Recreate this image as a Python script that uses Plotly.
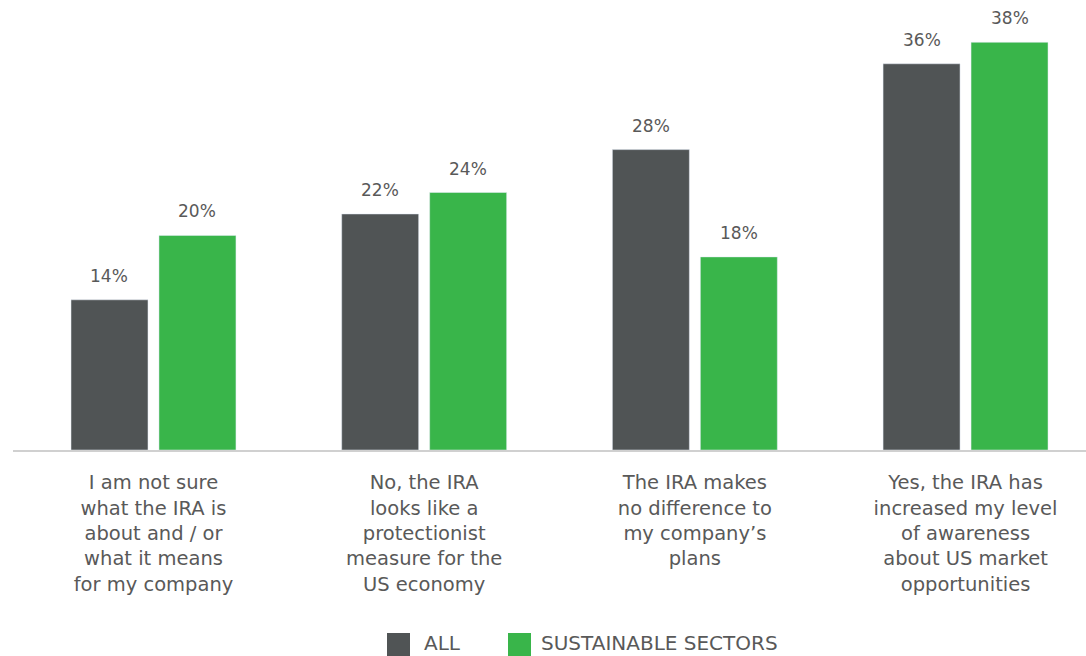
import plotly.graph_objects as go

categories = [
    "I am not sure<br>what the IRA is<br>about and / or<br>what it means<br>for my company",
    "No, the IRA<br>looks like a<br>protectionist<br>measure for the<br>US economy",
    "The IRA makes<br>no difference to<br>my company’s<br>plans",
    "Yes, the IRA has<br>increased my level<br>of awareness<br>about US market<br>opportunities",
]
series_names = ["ALL", "SUSTAINABLE SECTORS"]
all_values = [14, 22, 28, 36]
sust_values = [20, 24, 18, 38]

DARK = "#505455"
GREEN = "#39B54A"
TEXT = "#595959"
FONT = "DejaVu Sans"

fig = go.Figure()
fig.add_bar(x=categories, y=all_values, name=series_names[0], marker_color=DARK,
            showlegend=False)
fig.add_bar(x=categories, y=sust_values, name=series_names[1], marker_color=GREEN,
            showlegend=False)

# value labels
for vals, shift in ((all_values, -44), (sust_values, 44)):
    for c, v in zip(categories, vals):
        fig.add_annotation(x=c, y=v, text=f"{v}%", showarrow=False, xref="x", yref="y",
                           xshift=shift, yshift=12, yanchor="bottom",
                           font=dict(family=FONT, size=17, color=TEXT))

# legend drawn manually for large square swatches
legend_items = [(series_names[0], DARK, 387, 422), (series_names[1], GREEN, 508, 539)]
for name, col, bx, tx in legend_items:
    fig.add_shape(type="rect", xref="paper", yref="paper",
                  x0=(bx - 13) / 1073, x1=(bx + 23 - 13) / 1073,
                  y0=(450 - 656) / 427, y1=(450 - 633) / 427,
                  fillcolor=col, line_width=0)
    fig.add_annotation(x=(tx - 13) / 1073, y=(450 - 643) / 427, xref="paper", yref="paper",
                       text=name, showarrow=False, xanchor="left", yanchor="middle",
                       font=dict(family=FONT, size=20, color=TEXT))

fig.update_layout(
    width=1086, height=656,
    margin=dict(l=13, r=0, t=23, b=206),
    paper_bgcolor="white", plot_bgcolor="white",
    barmode="group", bargap=0.35, bargroupgap=0.125,
    font=dict(family=FONT, size=18, color=TEXT),
    xaxis=dict(range=[-0.519, 3.445], showline=True, linecolor="#d0d0d0", linewidth=2,
               ticks="outside", ticklen=14, tickcolor="rgba(0,0,0,0)",
               tickfont=dict(family=FONT, size=19.5, color=TEXT), showgrid=False,
               fixedrange=True),
    yaxis=dict(range=[0, 39.8], visible=False, showgrid=False, fixedrange=True),
)

fig.write_html("out.html")
